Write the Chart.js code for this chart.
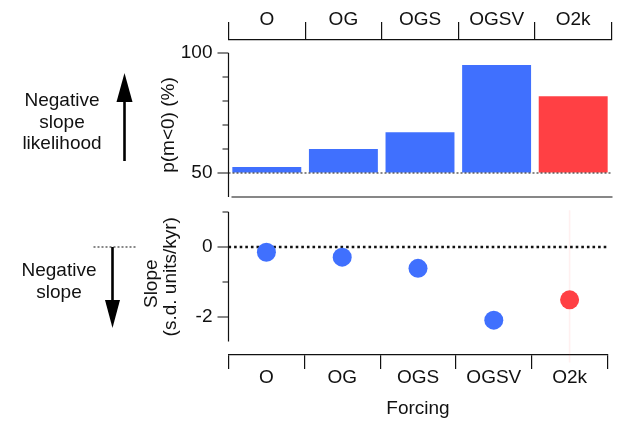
<!DOCTYPE html>
<html><head><meta charset="utf-8">
<script src="https://cdn.jsdelivr.net/npm/chart.js@4"></script>
<style>
html,body{margin:0;padding:0;background:#fff;}
#wrap{position:relative;width:617px;height:422px;overflow:hidden;font-family:"Liberation Sans",Arial,Helvetica,sans-serif;}
canvas{position:absolute;left:0;top:0;}
.note{position:absolute;font-size:19px;line-height:21.5px;text-align:center;color:#111;}
</style></head><body>
<div id="wrap">
<canvas id="topc" width="617" height="422" style="width:617px;height:422px"></canvas>
<canvas id="botc" width="617" height="422" style="width:617px;height:422px"></canvas>
<div class="note" style="left:12px;top:89px;width:100px">Negative<br>slope<br>likelihood</div>
<div class="note" style="left:9px;top:259px;width:100px">Negative<br>slope</div>
</div>
<script>
// ---- data ----
const categories = ['O', 'OG', 'OGS', 'OGSV', 'O2k'];
const pNegative = [52.5, 60, 67, 95, 82];          // p(m<0) (%)
const slopes = [-0.15, -0.29, -0.61, -2.09, -1.51]; // s.d. units/kyr
const slopeErrLow = [null, null, null, null, -3.3];
const slopeErrHigh = [null, null, null, null, 1.05];
const groupKind = ['model', 'model', 'model', 'model', 'recon'];
const pTicks = [50, 60, 70, 80, 90, 100];
const pLabels = [50, 100];
const slopeTicks = [1, 0, -1, -2];
const slopeLabels = [0, -2];
const barBase = 50;
const topTitle = 'p(m<0) (%)';
const botTitle = ['Slope', '(s.d. units/kyr)'];

const BLUE = '#4070fe', RED = '#ff4044';
const colorOf = k => k === 'recon' ? RED : BLUE;
const FONT = {family: '"Liberation Sans", Arial, Helvetica, sans-serif', size: 19};
Chart.defaults.font.family = FONT.family;
Chart.defaults.color = '#111';

function drawYAxis(ctx, a, y, fromV, toV, labelled) {
  ctx.save();
  ctx.strokeStyle = '#111'; ctx.lineWidth = 1.2;
  ctx.beginPath();
  ctx.moveTo(a.left, y.getPixelForValue(fromV));
  ctx.lineTo(a.left, y.getPixelForValue(toV));
  y.ticks.forEach(t => {
    const py = y.getPixelForValue(t.value);
    const len = labelled.includes(t.value) ? 11 : 6;
    ctx.moveTo(a.left - len, py); ctx.lineTo(a.left, py);
  });
  ctx.stroke();
  ctx.restore();
}

function vText(ctx, text, cx, cy) {
  ctx.save();
  ctx.translate(cx, cy);
  ctx.rotate(-Math.PI / 2);
  ctx.font = FONT.size + 'px ' + FONT.family;
  ctx.fillStyle = '#111';
  ctx.textAlign = 'center'; ctx.textBaseline = 'middle';
  ctx.fillText(text, 0, 0);
  ctx.restore();
}

// ---- arrows (annotation) ----
function arrow(ctx, x, y0, y1, headLen, halfW) {
  const dir = Math.sign(y1 - y0);
  ctx.save();
  ctx.fillStyle = '#000'; ctx.strokeStyle = '#000'; ctx.lineWidth = 2.6;
  ctx.beginPath(); ctx.moveTo(x, y0); ctx.lineTo(x, y1 - dir * headLen); ctx.stroke();
  ctx.beginPath();
  ctx.moveTo(x, y1); ctx.lineTo(x - halfW, y1 - dir * headLen); ctx.lineTo(x + halfW, y1 - dir * headLen);
  ctx.closePath(); ctx.fill();
  ctx.restore();
}

const topDecor = {
  id: 'topDecor',
  afterDatasetsDraw(chart) {
    const {ctx, chartArea: a, scales: {y}} = chart;
    ctx.save();
    ctx.strokeStyle = '#111'; ctx.lineWidth = 1.2; ctx.setLineDash([2, 2]);
    const yb = y.getPixelForValue(barBase);
    ctx.beginPath(); ctx.moveTo(a.left, yb); ctx.lineTo(a.right, yb); ctx.stroke();
    ctx.setLineDash([]);
    ctx.lineWidth = 1.2;
    ctx.beginPath(); ctx.moveTo(a.left + 3, a.bottom); ctx.lineTo(a.right + 1, a.bottom); ctx.stroke();
    ctx.restore();
    drawYAxis(ctx, a, y, 100, y.min, pLabels);
    vText(ctx, topTitle, a.left - 60, (y.getPixelForValue(100) + a.bottom) / 2);
    // side annotation arrows
    arrow(ctx, a.left - 104, a.top + 121, a.top + 33, 29, 8);
  }
};

new Chart(document.getElementById('topc'), {
  type: 'bar',
  data: {
    labels: categories,
    datasets: [{
      data: pNegative,
      base: barBase,
      backgroundColor: groupKind.map(colorOf),
      borderWidth: 0,
      categoryPercentage: 1.0,
      barPercentage: 0.9
    }]
  },
  options: {
    responsive: false, animation: false,
    events: [],
    layout: {padding: {left: 154, right: 5.5, top: 0, bottom: 225}},
    plugins: {legend: {display: false}, tooltip: {enabled: false}},
    scales: {
      x: {
        position: 'top', type: 'category', offset: true,
        grid: {offset: true, drawOnChartArea: false, drawTicks: true, tickLength: 18, color: '#111', lineWidth: 1.2},
        border: {display: true, color: '#111', width: 1.2},
        ticks: {font: FONT, color: '#111', padding: -9.5},
        afterFit: s => { s.height = 40; }
      },
      y: {
        min: 40, max: 105.42,
        afterBuildTicks: s => { s.ticks = pTicks.map(v => ({value: v})); },
        grid: {drawOnChartArea: false, drawTicks: true, tickLength: 11, color: 'rgba(0,0,0,0)'},
        border: {display: false},
        ticks: {font: FONT, color: '#111', padding: 5,
          callback: v => pLabels.includes(v) ? String(v) : ''},
        title: {display: false},
        afterFit: s => { s.width = 74.5; }
      }
    }
  },
  plugins: [topDecor]
});

const botDecor = {
  id: 'botDecor',
  beforeDatasetsDraw(chart) {
    const {ctx, chartArea: a, scales: {x, y}} = chart;
    ctx.save();
    // error bars
    ctx.strokeStyle = 'rgba(255,64,68,0.08)'; ctx.lineWidth = 1.5;
    slopeErrLow.forEach((lo, i) => {
      if (lo == null) return;
      const px = x.getPixelForValue(i);
      ctx.beginPath(); ctx.moveTo(px, y.getPixelForValue(lo)); ctx.lineTo(px, y.getPixelForValue(slopeErrHigh[i])); ctx.stroke();
    });
    // zero line
    ctx.strokeStyle = '#111'; ctx.lineWidth = 2.4; ctx.setLineDash([2.6, 3]);
    const y0 = y.getPixelForValue(0);
    ctx.beginPath(); ctx.moveTo(a.left, y0); ctx.lineTo(a.right, y0); ctx.stroke();
    ctx.restore();
    drawYAxis(ctx, a, y, 1, -2.7, slopeLabels);
    const mid = (y.getPixelForValue(1) + y.getPixelForValue(-2.7)) / 2;
    vText(ctx, botTitle[0], a.left - 77, mid + 7);
    vText(ctx, botTitle[1], a.left - 58, mid);
    // side annotation: dotted reference + down arrow
    ctx.save();
    ctx.strokeStyle = '#111'; ctx.lineWidth = 1; ctx.setLineDash([2, 2]);
    ctx.beginPath(); ctx.moveTo(a.left - 135, y0); ctx.lineTo(a.left - 92, y0); ctx.stroke();
    ctx.restore();
    arrow(ctx, a.left - 116, y0, y0 + 81, 28, 7.5);
  }
};

new Chart(document.getElementById('botc'), {
  type: 'line',
  data: {
    labels: categories,
    datasets: [{
      data: slopes,
      showLine: false,
      pointRadius: 9.5,
      pointBorderWidth: 0,
      pointBackgroundColor: groupKind.map(colorOf),
      pointBorderColor: groupKind.map(colorOf)
    }, {
      data: slopes,
      showLine: false,
      pointRadius: groupKind.map(k => k === 'recon' ? 0 : 1.4),
      pointBorderWidth: 0,
      pointBackgroundColor: '#333'
    }]
  },
  options: {
    responsive: false, animation: false,
    events: [],
    layout: {padding: {left: 138, right: 5.5, top: 212, bottom: 0}},
    plugins: {legend: {display: false}, tooltip: {enabled: false}},
    scales: {
      x: {
        position: 'bottom', type: 'category', offset: true,
        grid: {offset: true, drawOnChartArea: false, drawTicks: true, tickLength: 14, color: '#111', lineWidth: 1.2},
        border: {display: true, color: '#111', width: 1.2},
        ticks: {font: FONT, color: '#111', padding: -3},
        title: {display: true, text: 'Forcing', font: FONT, color: '#111', padding: {top: 0, bottom: 2}},
        afterFit: s => { s.height = 67; }
      },
      y: {
        min: -3.086, max: 1,
        afterBuildTicks: s => { s.ticks = slopeTicks.map(v => ({value: v})); },
        grid: {drawOnChartArea: false, drawTicks: true, tickLength: 11, color: 'rgba(0,0,0,0)'},
        border: {display: false},
        ticks: {font: FONT, color: '#111', padding: 5,
          callback: v => slopeLabels.includes(v) ? String(v) : ''},
        title: {display: false},
        afterFit: s => { s.width = 90.5; }
      }
    }
  },
  plugins: [botDecor]
});
</script>
</body></html>
